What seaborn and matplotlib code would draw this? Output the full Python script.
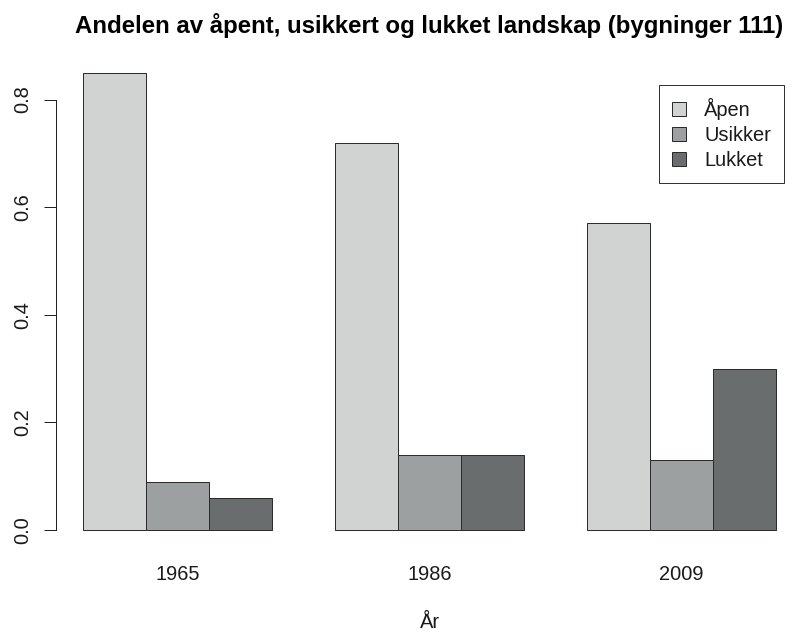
import numpy as np
import pandas as pd
import matplotlib
matplotlib.use("Agg")
import matplotlib.pyplot as plt
from matplotlib.patches import Patch
import seaborn as sns

# Share of open, uncertain and closed landscape per survey year
years = ["1965", "1986", "2009"]
categories = ["Åpen", "Usikker", "Lukket"]
apen = [0.85, 0.72, 0.57]
usikker = [0.09, 0.14, 0.13]
lukket = [0.06, 0.14, 0.30]
colors = ["#d1d3d2", "#9da0a0", "#6a6d6d"]
y_ticks = [0.0, 0.2, 0.4, 0.6, 0.8]
y_tick_labels = ["0.0", "0.2", "0.4", "0.6", "0.8"]

df = pd.DataFrame({
    "År": years * len(categories),
    "Kategori": np.repeat(categories, len(years)),
    "Andel": apen + usikker + lukket,
})

sns.set_theme(style="white")
plt.rcParams["font.family"] = ["Liberation Sans", "DejaVu Sans"]

W, H, DPI = 798, 633, 72
TEXT = "#1a1a1a"
fig = plt.figure(figsize=(W / DPI, H / DPI), dpi=DPI)
left, right, top, bottom = 55.5, 803.5, 54.4, 548.3
ax = fig.add_axes([left / W, 1 - bottom / H, (right - left) / W, (bottom - top) / H])

sns.barplot(data=df, x="År", y="Andel", hue="Kategori", order=years,
            hue_order=categories, palette=colors, width=0.75, gap=0,
            saturation=1, errorbar=None, edgecolor="#2b2b2b", linewidth=1,
            legend=False, ax=ax)

ax.set_xlim(-0.485, 2.485)
ax.set_ylim(-0.034, 0.884)

for side in ("top", "right", "bottom"):
    ax.spines[side].set_visible(False)
ax.spines["left"].set_bounds(0, 0.8)
ax.spines["left"].set_color("#222222")
ax.spines["left"].set_linewidth(1)

ax.set_yticks(y_ticks)
ax.set_yticklabels(y_tick_labels, rotation=90, va="center")
ax.tick_params(axis="y", left=True, length=12, width=1, color="#222222",
               direction="out", pad=11, labelsize=20, labelcolor=TEXT)
ax.tick_params(axis="x", bottom=False, length=0, pad=17, labelsize=20,
               labelcolor=TEXT)

ax.set_ylabel("")
ax.set_xlabel("År", fontsize=20, color=TEXT, labelpad=29)
ax.set_title("Andelen av åpent, usikkert og lukket landskap (bygninger 111)",
             fontsize=24, fontweight="bold", color="black", pad=21)

handles = [Patch(facecolor=c, edgecolor="#2b2b2b", linewidth=1) for c in colors]
leg = ax.legend(handles, categories, loc="upper right",
                bbox_to_anchor=(784 / W, 1 - 85 / H), bbox_transform=fig.transFigure,
                borderaxespad=0, fancybox=False, frameon=True, fontsize=20,
                handlelength=0.7, handleheight=0.7, handletextpad=0.9,
                labelspacing=0.3, borderpad=0.65)
leg.get_frame().set_edgecolor("black")
leg.get_frame().set_linewidth(1)
for t in leg.get_texts():
    t.set_color(TEXT)

fig.savefig("out.png", dpi=DPI)
